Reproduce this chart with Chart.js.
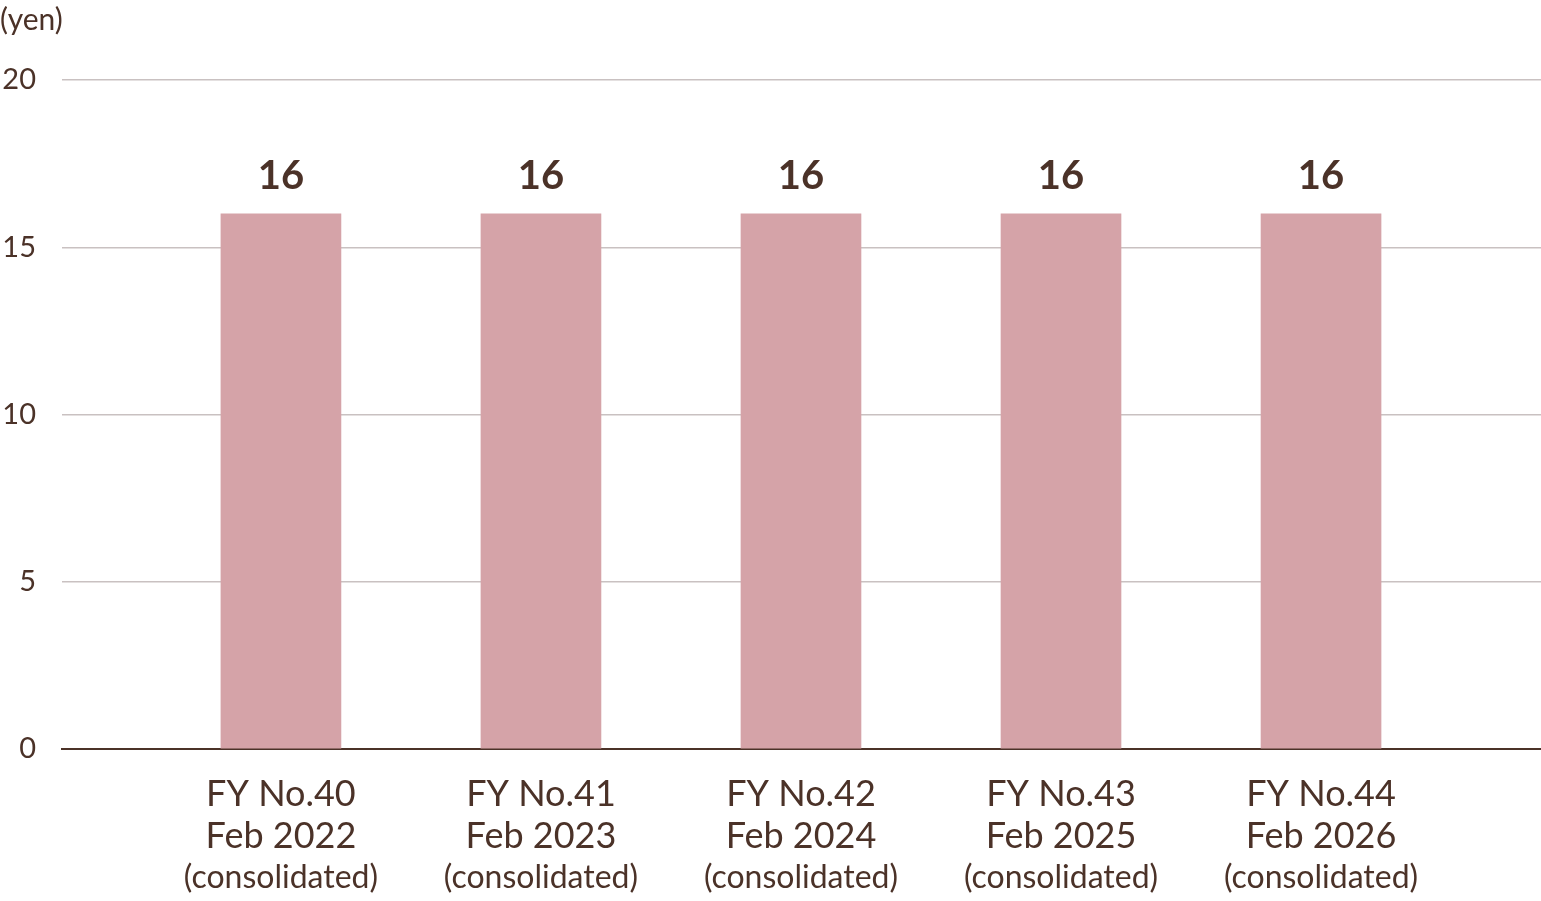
<!DOCTYPE html>
<html><head><meta charset="utf-8">
<script src="https://cdn.jsdelivr.net/npm/chart.js@4"></script>
<style>html,body{margin:0;background:#fff}#w{width:1541px;height:901px}</style>
</head><body><div id="w"><canvas id="c"></canvas></div>
<script>
const fyLabels=["FY No.40","FY No.41","FY No.42","FY No.43","FY No.44"];
const monthLabels=["Feb 2022","Feb 2023","Feb 2024","Feb 2025","Feb 2026"];
const noteLabels=["(consolidated)","(consolidated)","(consolidated)","(consolidated)","(consolidated)"];
const dividends=[16,16,16,16,16];
const yTicks=[0,5,10,15,20];
const brown="#4b3228";
const F="Lato, 'Noto Sans', sans-serif";
const labelsPlugin={id:"lbl",afterDatasetsDraw(ch){
  const ctx=ch.ctx,x=ch.scales.x,y=ch.scales.y;
  ctx.save();ctx.fillStyle=brown;ctx.textAlign="center";ctx.textBaseline="middle";
  dividends.forEach((v,i)=>{
    const px=x.getPixelForValue(i);
    ctx.font="bold 40px "+F;ctx.fillText(String(v),px,y.getPixelForValue(v)-38);
    ctx.font="36px "+F;
    ctx.fillText(fyLabels[i],px,y.bottom+45);
    ctx.fillText(monthLabels[i],px,y.bottom+87);
    ctx.font="32px "+F;ctx.fillText(noteLabels[i],px,y.bottom+129);
  });
  ctx.font="30px "+F;ctx.textAlign="left";ctx.fillText("(yen)",0,20);
  ctx.restore();}};
new Chart(document.getElementById("c"),{type:"bar",
 data:{datasets:[{data:dividends.map((v,i)=>({x:i,y:v})),backgroundColor:"#d5a3a8",barThickness:120}]},
 options:{responsive:true,maintainAspectRatio:false,animation:false,
  layout:{padding:{top:80,bottom:144,right:0,left:0}},
  plugins:{legend:{display:false},tooltip:{enabled:false}},
  scales:{
   x:{type:"linear",offset:false,min:-0.842,max:4.846,ticks:{display:false},grid:{display:false,offset:false},border:{color:brown,width:2}},
   y:{min:0,max:20,afterBuildTicks:s=>{s.ticks=yTicks.map(v=>({value:v}))},
      afterFit:s=>{s.width=62},
      ticks:{color:brown,font:{size:29,family:F},padding:26},
      grid:{color:"#c9c1c1",lineWidth:1.5,drawTicks:false},border:{display:false}}
  }},plugins:[labelsPlugin]});
</script></body></html>
